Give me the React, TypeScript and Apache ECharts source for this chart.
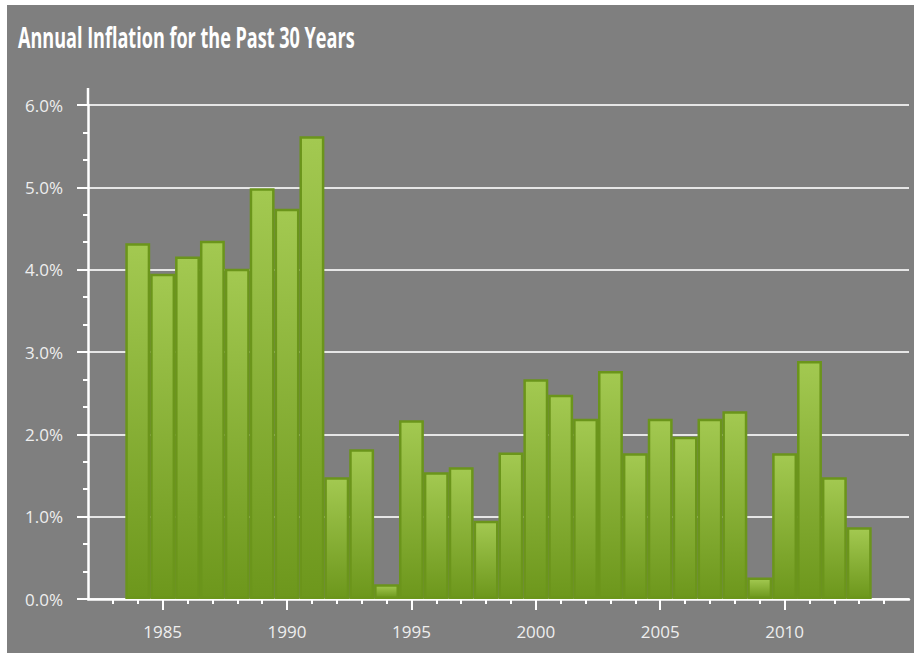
import React, { useEffect, useRef } from "react";
import * as echarts from "echarts";

const titleText = "Annual Inflation for the Past 30 Years";
const years = [1984, 1985, 1986, 1987, 1988, 1989, 1990, 1991, 1992, 1993, 1994, 1995, 1996, 1997, 1998, 1999, 2000, 2001, 2002, 2003, 2004, 2005, 2006, 2007, 2008, 2009, 2010, 2011, 2012, 2013];
const inflation = [4.32, 3.95, 4.16, 4.35, 4.01, 4.99, 4.74, 5.62, 1.48, 1.82, 0.18, 2.17, 1.54, 1.6, 0.95, 1.78, 2.67, 2.48, 2.19, 2.77, 1.77, 2.19, 1.97, 2.19, 2.28, 0.26, 1.77, 2.89, 1.48, 0.87];
const yearTicks = [1983, 1984, 1985, 1986, 1987, 1988, 1989, 1990, 1991, 1992, 1993, 1994, 1995, 1996, 1997, 1998, 1999, 2000, 2001, 2002, 2003, 2004, 2005, 2006, 2007, 2008, 2009, 2010, 2011, 2012, 2013, 2014];
const yearLabels = [1985, 1990, 1995, 2000, 2005, 2010];

export default function App() {
  const ref = useRef<HTMLDivElement>(null);
  useEffect(() => {
    if (!ref.current) return;
    const chart = echarts.init(ref.current, null, { renderer: "svg" });
    const labelFont = "'Open Sans', 'Noto Sans', sans-serif";
    chart.setOption({
      animation: false,
      backgroundColor: "#7f7f7f",
      grid: { left: 81, top: 100, right: 5, bottom: 54 },
      xAxis: [
        {
          type: "value",
          min: 1982,
          max: 2015,
          interval: 1,
          axisLine: { show: true, lineStyle: { color: "#ffffff", width: 2.5 } },
          axisTick: { show: true, customValues: yearTicks, length: 5, lineStyle: { color: "#ffffff", width: 2 } },
          axisLabel: { show: false },
          splitLine: { show: false },
        },
        {
          type: "value",
          min: 1982,
          max: 2015,
          position: "bottom",
          axisLine: { show: false },
          axisTick: { show: true, customValues: yearLabels, length: 11, lineStyle: { color: "#ffffff", width: 2 } },
          axisLabel: {
            show: true,
            customValues: yearLabels,
            margin: 24,
            color: "#eeeeee",
            fontSize: 17,
            fontFamily: labelFont,
            formatter: (v: number) => String(v),
          },
          splitLine: { show: false },
        },
      ],
      yAxis: {
        type: "value",
        min: 0,
        max: 6,
        interval: 1,
        axisLine: { show: true, lineStyle: { color: "#ffffff", width: 2.5 } },
        axisTick: { show: true, length: 11, lineStyle: { color: "#ffffff", width: 2 } },
        minorTick: { show: true, splitNumber: 3, length: 5, lineStyle: { color: "#ffffff", width: 2 } },
        splitLine: { show: true, lineStyle: { color: "#e6e6e6", width: 2 } },
        minorSplitLine: { show: false },
        axisLabel: {
          margin: 25,
          color: "#eeeeee",
          fontSize: 17,
          fontFamily: labelFont,
          formatter: (v: number) => v.toFixed(1) + "%",
        },
      },
      graphic: [
        {
          type: "text",
          x: 11,
          y: 18,
          scaleX: 0.645,
          silent: true,
          style: {
            text: titleText,
            fill: "#ffffff",
            fontSize: 28,
            fontWeight: "bold",
            fontFamily: "'Open Sans', sans-serif",
            verticalAlign: "top",
            align: "left",
          },
        },
        {
          type: "line",
          shape: { x1: 81, y1: 83, x2: 81, y2: 101 },
          style: { stroke: "#ffffff", lineWidth: 2.5 },
          silent: true,
        },
      ],
      series: [
        {
          type: "bar",
          xAxisIndex: 0,
          yAxisIndex: 0,
          barWidth: "100%",
          data: years.map((y, i) => [y, inflation[i]]),
          itemStyle: {
            color: new echarts.graphic.LinearGradient(0, 0, 0, 1, [
              { offset: 0, color: "#a3c951" },
              { offset: 1, color: "#6d971c" },
            ]),
            borderColor: "#6b951b",
            borderWidth: 2.5,
          },
        },
      ],
    });
    return () => chart.dispose();
  }, []);
  return (
    <div
      ref={ref}
      style={{ position: "fixed", left: 7, top: 5, width: 907, height: 648 }}
    />
  );
}
